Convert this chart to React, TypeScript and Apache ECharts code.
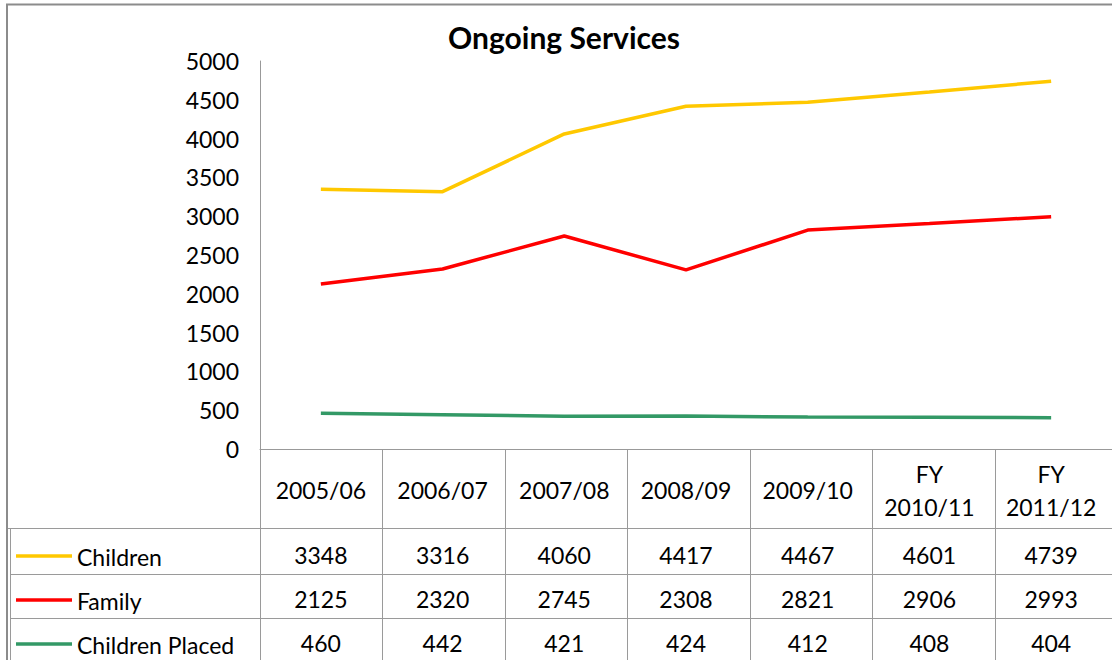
import React, { useEffect, useRef } from "react";
import * as echarts from "echarts";

const categories = ["2005/06", "2006/07", "2007/08", "2008/09", "2009/10", "FY\n2010/11", "FY\n2011/12"];
const seriesNames = ["Children", "Family", "Children Placed"];
const childrenValues = [3348, 3316, 4060, 4417, 4467, 4601, 4739];
const familyValues = [2125, 2320, 2745, 2308, 2821, 2906, 2993];
const placedValues = [460, 442, 421, 424, 412, 408, 404];
const seriesColors = ["#FFC800", "#FF0000", "#339966"];
const yMin = 0;
const yMax = 5000;
const yInterval = 500;

const FONT = "Lato";
const FS = 23;

export default function App() {
  const ref = useRef<HTMLDivElement>(null);
  useEffect(() => {
    if (!ref.current) return;
    const chart = echarts.init(ref.current, null, { renderer: "svg" });
    const allValues = [childrenValues, familyValues, placedValues];
    const gridLeft = 260;
    const gridTop = 61;
    const gridWidth = 857;
    const gridHeight = 388;
    const axisY = gridTop + gridHeight;
    chart.setOption({
      animation: false,
      backgroundColor: "#fff",
      title: {
        text: "Ongoing Services",
        left: 559,
        top: 17,
        textAlign: "center",
        textStyle: { fontFamily: FONT, fontWeight: "bold", fontSize: 30, color: "#000" },
      },
      grid: { left: gridLeft, top: gridTop, width: gridWidth, height: gridHeight },
      xAxis: {
        type: "category",
        data: categories,
        boundaryGap: true,
        axisLine: { lineStyle: { color: "#999", width: 1 } },
        axisTick: { show: false },
        axisLabel: {
          interval: 0,
          margin: 41,
          verticalAlign: "middle",
          fontFamily: FONT,
          fontSize: FS,
          lineHeight: 33,
          color: "#000",
        },
        splitLine: { show: false },
      },
      yAxis: {
        type: "value",
        min: yMin,
        max: yMax,
        interval: yInterval,
        axisLine: { show: true, lineStyle: { color: "#999", width: 1 } },
        axisTick: { show: false },
        splitLine: { show: false },
        axisLabel: {
          margin: 21,
          fontFamily: FONT,
          fontSize: FS,
          color: "#000",
          formatter: (v: number) => String(v),
        },
      },
      series: allValues.map((vals, i) => ({
        name: seriesNames[i],
        type: "line",
        data: vals,
        symbol: "none",
        lineStyle: { color: seriesColors[i], width: 3.5 },
        itemStyle: { color: seriesColors[i] },
      })),
    });

    const n = categories.length;
    const xs: number[] = [];
    for (let i = 0; i < n; i++) {
      xs.push(chart.convertToPixel({ xAxisIndex: 0 }, i) as number);
    }
    const colW = gridWidth / n;
    const lineStyle = { stroke: "#9a9a9a", lineWidth: 1 };
    const rowLines = [528, 574, 618, 662];
    const rowCenters = [555, 599, 643];
    const elements: any[] = [];
    elements.push({
      type: "rect",
      shape: { x: 7, y: 4.5, width: 1300, height: 900 },
      style: { fill: "none", stroke: "#8c8c8c", lineWidth: 2 },
      silent: true,
    });
    for (let i = 0; i <= n; i++) {
      const x = Math.round(gridLeft + colW * i) + 0.5;
      elements.push({ type: "line", shape: { x1: x, y1: axisY, x2: x, y2: 700 }, style: lineStyle, silent: true });
    }
    elements.push({ type: "line", shape: { x1: 10.5, y1: rowLines[0], x2: 10.5, y2: 700 }, style: lineStyle, silent: true });
    rowLines.forEach((y, k) => {
      elements.push({
        type: "line",
        shape: { x1: k === 0 ? 8 : 10.5, y1: y + 0.5, x2: 1200, y2: y + 0.5 },
        style: lineStyle,
        silent: true,
      });
    });
    allValues.forEach((vals, r) => {
      const cy = rowCenters[r];
      elements.push({
        type: "line",
        shape: { x1: 16, y1: cy + 1, x2: 72, y2: cy + 1 },
        style: { stroke: seriesColors[r], lineWidth: 3.5 },
        silent: true,
      });
      elements.push({
        type: "text",
        x: 77,
        y: cy + 2,
        style: {
          text: seriesNames[r],
          fontFamily: FONT,
          fontSize: FS,
          fill: "#000",
          textAlign: "left",
          textVerticalAlign: "middle",
        },
        silent: true,
      });
      vals.forEach((v, i) => {
        elements.push({
          type: "text",
          x: xs[i],
          y: cy,
          style: {
            text: String(v),
            fontFamily: FONT,
            fontSize: FS,
            fill: "#000",
            textAlign: "center",
            textVerticalAlign: "middle",
          },
          silent: true,
        });
      });
    });
    chart.setOption({ graphic: { elements } });
    return () => chart.dispose();
  }, []);
  return <div ref={ref} style={{ position: "absolute", left: 0, top: 0, width: 1112, height: 660 }} />;
}
